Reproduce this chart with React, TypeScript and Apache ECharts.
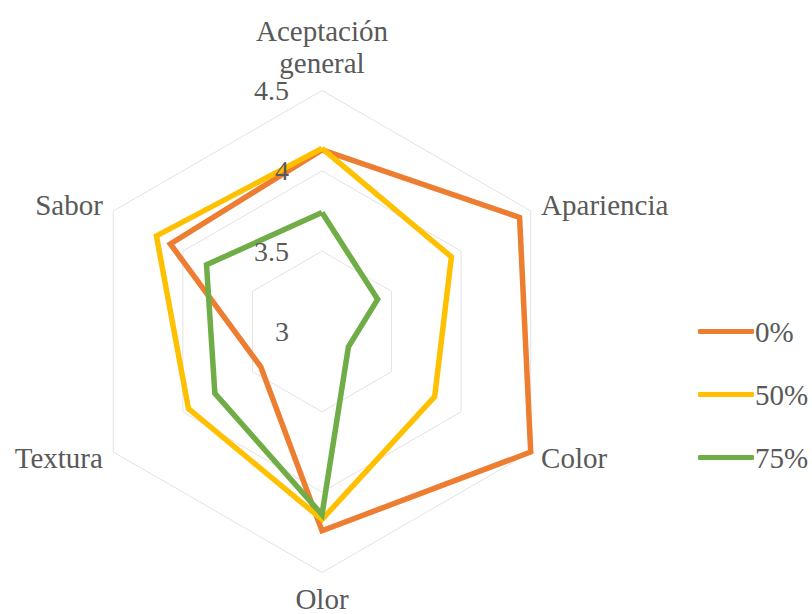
import React, { useEffect, useRef } from "react";
import * as echarts from "echarts";

// Sensory attributes, listed clockwise from the top spoke
const categories = ["Aceptación\ngeneral", "Apariencia", "Color", "Olor", "Textura", "Sabor"];
const seriesNames = ["0%", "50%", "75%"];
const values0 = [4.13, 4.42, 4.5, 4.24, 3.44, 4.09];
const values50 = [4.14, 3.93, 3.81, 4.17, 3.96, 4.19];
const values75 = [3.74, 3.4, 3.19, 4.14, 3.77, 3.83];
const colors = ["#ED7D31", "#FFC000", "#70AD47"];
const axisMin = 3;
const axisMax = 4.5;
const axisStep = 0.5;

const FONT = "Liberation Serif";
const TEXT = "#595959";

// ECharts lays indicators out counter-clockwise, so keep the first one and reverse the rest
const ccw = <T,>(arr: T[]): T[] => [arr[0], ...arr.slice(1).reverse()];

const baseRadar = {
  center: [322, 331.5],
  radius: 241,
  startAngle: 90,
  shape: "polygon",
  splitNumber: 3,
  axisLine: { show: false },
  axisTick: { show: false },
  splitArea: { show: false },
};

export default function App() {
  const ref = useRef<HTMLDivElement>(null);

  useEffect(() => {
    if (!ref.current) return;
    const chart = echarts.init(ref.current, undefined, { renderer: "svg" });
    const allValues = [values0, values50, values75];

    chart.setOption({
      animation: false,
      backgroundColor: "#ffffff",
      legend: {
        orient: "vertical",
        left: 693,
        top: 312,
        itemWidth: 56,
        itemHeight: 5,
        itemGap: 34,
        icon: "roundRect",
        textStyle: { fontFamily: FONT, fontSize: 29, color: TEXT, padding: [0, 0, 0, -4] },
        data: seriesNames,
      },
      radar: [
        // grid rings and attribute names, beneath the series
        {
          ...baseRadar,
          z: 1,
          nameGap: 12,
          axisName: {
            fontFamily: FONT,
            fontSize: 29,
            color: TEXT,
            lineHeight: 29,
            // two-line names get a looser leading
            formatter: (name: string) =>
              name.includes("\n") ? name.split("\n").map((s) => `{wide|${s}}`).join("\n") : name,
            rich: { wide: { fontFamily: FONT, fontSize: 29, color: TEXT, lineHeight: 32 } },
          },
          splitLine: { lineStyle: { color: "#e3e3e3", width: 1 } },
          axisLabel: { show: false },
          indicator: ccw(categories).map((name) => ({ name, min: axisMin, max: axisMax, interval: axisStep })),
        },
        // value labels on the top spoke, drawn above the series
        {
          ...baseRadar,
          z: 5,
          splitLine: { show: false },
          axisName: { show: false },
          axisLabel: { show: false },
          indicator: ccw(categories).map((name, i) => ({
            name,
            min: axisMin,
            max: axisMax,
            interval: axisStep,
            ...(i === 0
              ? {
                  axisLabel: {
                    show: true,
                    margin: 33,
                    fontFamily: FONT,
                    fontSize: 28,
                    color: TEXT,
                    formatter: (v: number) => String(v),
                  },
                }
              : {}),
          })),
        },
      ],
      series: [
        {
          type: "radar",
          radarIndex: 0,
          z: 2,
          symbol: "none",
          data: seriesNames.map((name, i) => ({
            name,
            value: ccw(allValues[i]),
            lineStyle: { color: colors[i], width: 5.5, join: "miter" },
            itemStyle: { color: colors[i] },
          })),
        },
      ],
    });

    return () => chart.dispose();
  }, []);

  return (
    <div
      ref={ref}
      style={{ position: "fixed", left: 0, top: 0, width: 812, height: 614, background: "#fff" }}
    />
  );
}
